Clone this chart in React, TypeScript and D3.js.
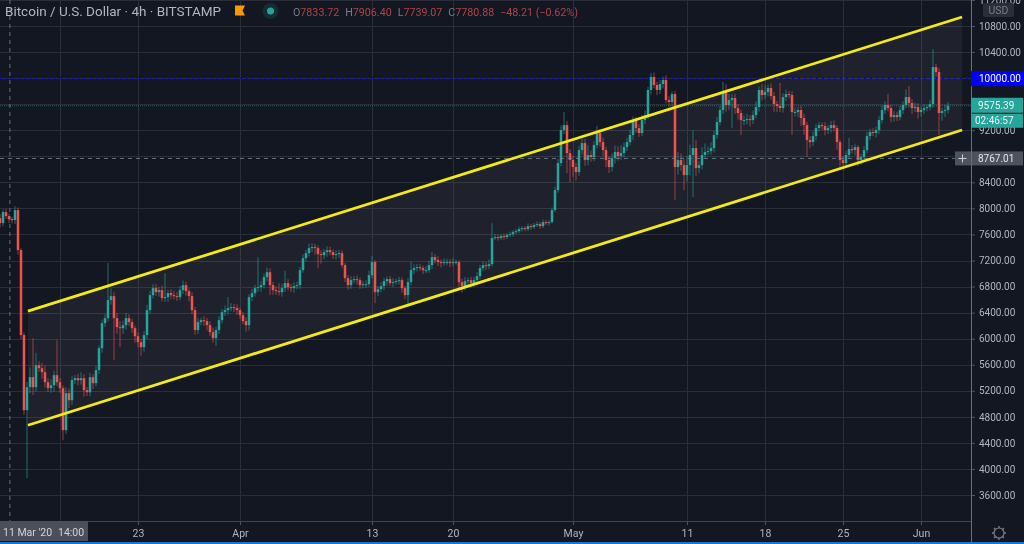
import React, { useEffect, useRef } from 'react';
import * as d3 from 'd3';

const firstOpen = 7850;

// 4h candles thinned out, closing prices
const closes = [
  7774, 7943, 7882, 7835, 7820, 7974, 7360, 6054, 4902, 5255,
  5409, 5255, 5593, 5547, 5486, 5332, 5240, 5286, 5440, 5332,
  5240, 4595, 5163, 5055, 5363, 5393, 5363, 5393, 5209, 5178,
  5409, 5317, 5517, 5854, 6238, 6315, 6592, 6653, 6315, 6177,
  6161, 6207, 6315, 6254, 6161, 6038, 5946, 5869, 6054, 6438,
  6668, 6776, 6714, 6745, 6622, 6638, 6699, 6668, 6653, 6638,
  6745, 6822, 6730, 6653, 6438, 6131, 6254, 6284, 6269, 6207,
  6100, 6008, 6131, 6284, 6407, 6438, 6469, 6484, 6469, 6438,
  6361, 6269, 6207, 6638, 6699, 6776, 6791, 6822, 6945, 7021,
  6822, 6745, 6730, 6714, 6776, 6853, 6791, 6776, 6806, 6822,
  7052, 7236, 7313, 7390, 7406, 7390, 7298, 7283, 7329, 7359,
  7329, 7283, 7298, 7313, 7129, 6929, 6822, 6899, 6914, 6899,
  6822, 6837, 6837, 6975, 7175, 6714, 6760, 6806, 6883, 6914,
  6853, 6868, 6883, 6899, 6776, 6668, 6868, 7052, 7083, 7098,
  7083, 7052, 7052, 7129, 7252, 7206, 7175, 7160, 7175, 7175,
  7160, 7175, 7175, 6868, 6806, 6883, 6899, 6853, 6899, 6960,
  7083, 7129, 7114, 7144, 7544, 7559, 7544, 7574, 7559, 7590,
  7605, 7636, 7651, 7682, 7697, 7682, 7728, 7713, 7744, 7759,
  7728, 7789, 7774, 7789, 7974, 8281, 8696, 9202, 9279, 8849,
  8742, 8634, 8557, 8895, 9003, 8742, 8819, 8788, 8972, 9157,
  9018, 8895, 8742, 8634, 8772, 8865, 8803, 8849, 8941, 9018,
  9126, 9341, 9233, 9157, 9356, 9433, 9817, 10017, 9894, 9817,
  9909, 9971, 9663, 9632, 9755, 8634, 8742, 8665, 8511, 8665,
  8819, 8926, 8619, 8665, 8819, 8865, 8880, 8926, 9126, 9325,
  9510, 9786, 9587, 9663, 9694, 9540, 9464, 9356, 9356, 9371,
  9356, 9433, 9556, 9817, 9740, 9786, 9848, 9725, 9602, 9571,
  9540, 9709, 9755, 9740, 9479, 9479, 9510, 9387, 9279, 9049,
  9018, 9110, 9233, 9279, 9264, 9202, 9233, 9279, 9233, 9018,
  8742, 8696, 8819, 8911, 8895, 8941, 8742, 8788, 8895, 9110,
  9172, 9157, 9202, 9356, 9510, 9587, 9540, 9402, 9433, 9402,
  9510, 9587, 9709, 9617, 9540, 9556, 9479, 9510, 9540, 9556,
  9602, 10170, 10093, 9464, 9494, 9510, 9575,
];

// wick length above the body, dollars
const upperWicks = [
  60, 40, 50, 40, 30, 60, 40, 30, 40, 80,
  150, 600, 190, 60, 80, 100, 60, 90, 70, 537,
  60, 40, 90, 70, 60, 50, 70, 90, 60, 50,
  70, 50, 60, 40, 50, 60, 570, 120, 60, 80,
  90, 70, 80, 60, 50, 40, 60, 50, 60, 80,
  70, 60, 60, 50, 70, 368, 50, 60, 70, 60,
  60, 70, 50, 40, 60, 50, 60, 40, 60, 50,
  60, 70, 50, 60, 50, 70, 170, 60, 50, 60,
  40, 50, 60, 40, 60, 50, 460, 60, 50, 70,
  60, 50, 60, 120, 70, 190, 60, 50, 60, 50,
  50, 60, 50, 70, 60, 50, 40, 60, 50, 60,
  50, 40, 60, 50, 40, 30, 50, 60, 50, 60,
  40, 50, 60, 70, 90, 30, 50, 60, 50, 40,
  50, 60, 40, 50, 40, 30, 60, 130, 60, 50,
  50, 40, 60, 70, 80, 50, 60, 40, 60, 50,
  50, 60, 40, 30, 50, 60, 40, 50, 50, 60,
  50, 60, 50, 70, 230, 50, 40, 30, 40, 30,
  40, 30, 30, 40, 30, 30, 40, 30, 30, 40,
  30, 40, 30, 30, 40, 50, 60, 70, 200, 60,
  60, 70, 60, 60, 70, 60, 150, 70, 60, 110,
  60, 70, 50, 60, 70, 100, 90, 120, 70, 60,
  80, 70, 60, 60, 80, 70, 50, 60, 70, 50,
  60, 50, 70, 60, 40, 50, 120, 100, 90, 140,
  160, 276, 120, 60, 120, 130, 70, 90, 60, 80,
  60, 155, 120, 100, 60, 70, 60, 50, 70, 80,
  60, 70, 90, 60, 90, 110, 50, 70, 60, 50,
  354, 60, 70, 50, 60, 70, 50, 60, 60, 50,
  60, 70, 60, 50, 40, 60, 50, 60, 70, 40,
  40, 60, 60, 170, 60, 50, 30, 50, 60, 70,
  50, 60, 50, 60, 70, 60, 170, 50, 60, 50,
  60, 60, 120, 170, 60, 70, 60, 50, 60, 40,
  60, 277, 50, 60, 50, 80, 60,
];

// wick length below the body, dollars
const lowerWicks = [
  70, 50, 40, 60, 50, 60, 70, 60, 70, 1045,
  90, 120, 70, 60, 100, 80, 60, 70, 100, 60,
  70, 154, 60, 120, 70, 60, 80, 70, 100, 60,
  60, 90, 50, 60, 70, 60, 50, 70, 645, 100,
  290, 90, 70, 60, 70, 100, 80, 130, 70, 60,
  60, 50, 60, 70, 50, 60, 70, 60, 50, 60,
  50, 60, 70, 80, 60, 70, 60, 50, 70, 80,
  60, 70, 120, 60, 50, 60, 70, 50, 60, 70,
  60, 50, 100, 80, 60, 50, 60, 70, 50, 60,
  150, 70, 60, 50, 70, 60, 50, 60, 70, 50,
  60, 40, 50, 50, 60, 100, 215, 130, 60, 70,
  50, 60, 70, 60, 40, 60, 70, 60, 50, 70,
  60, 50, 60, 40, 50, 170, 60, 50, 60, 70,
  50, 60, 40, 50, 70, 60, 184, 50, 60, 50,
  40, 60, 50, 40, 60, 50, 60, 70, 40, 50,
  60, 50, 40, 90, 100, 60, 70, 50, 60, 40,
  50, 40, 60, 50, 40, 30, 40, 30, 40, 30,
  30, 40, 30, 30, 40, 30, 30, 40, 30, 30,
  40, 30, 30, 40, 20, 30, 40, 50, 60, 307,
  340, 150, 130, 60, 70, 90, 80, 70, 60, 50,
  70, 90, 110, 90, 70, 80, 70, 60, 70, 60,
  50, 80, 70, 60, 50, 60, 60, 70, 50, 80,
  60, 70, 50, 70, 60, 507, 120, 90, 230, 100,
  160, 646, 120, 80, 70, 60, 50, 60, 70, 60,
  50, 60, 100, 80, 430, 90, 100, 230, 80, 70,
  100, 60, 50, 70, 80, 60, 70, 50, 120, 90,
  60, 70, 60, 50, 350, 70, 80, 120, 150, 260,
  90, 60, 70, 50, 60, 80, 60, 70, 50, 120,
  150, 80, 70, 60, 50, 80, 90, 70, 60, 50,
  60, 50, 70, 60, 50, 60, 50, 80, 70, 60,
  50, 60, 50, 70, 90, 60, 100, 70, 60, 50,
  50, 60, 70, 338, 120, 90, 50,
];

const gridPrices = [3600, 4000, 4400, 4800, 5200, 5600, 6000, 6400, 6800, 7200, 7600, 8000, 8400, 8800, 9200, 9600, 10000, 10400, 10800, 11200];
// 8800, 9600 and 10000 sit under the price tags
const labelPrices = [3600, 4000, 4400, 4800, 5200, 5600, 6000, 6400, 6800, 7200, 7600, 8000, 8400, 9200, 10400, 10800, 11200];
const timeTickIndex = [20, 46, 80, 124, 151, 191, 229, 255, 281, 307];
const timeTickLabels = ['', '23', 'Apr', '13', '20', 'May', '11', '18', '25', 'Jun'];

// channel end points: candle index and price
const channelIndex = [9.3, 320.7];
const channelUpper = [6422, 10938];
const channelLower = [4671, 9203];

const alertPrice = 10000;
const lastPrice = 9575.39;
const crossPrice = 8767.01;
const crossIndex = 3.3;

const ohlcLabels = ['O', 'H', 'L', 'C'];
const ohlcValues = ['7833.72', '7906.40', '7739.07', '7780.88'];

const FONT = 'Roboto, sans-serif';
const UP = '#26a69a';
const DOWN = '#ef5350';

export default function App() {
  const ref = useRef<SVGSVGElement>(null);

  useEffect(() => {
    if (!ref.current) return;
    document.body.style.margin = '0';
    const width = 1024;
    const height = 544;
    const paneRight = 971;
    const paneBottom = 521;

    const svg = d3.select(ref.current);
    svg.selectAll('*').remove();

    const x = d3.scaleLinear().domain([0, 316]).range([0, 948]);
    const y = d3.scaleLinear().domain([3600, 10800]).range([495, 26]);

    svg.append('rect').attr('width', width).attr('height', height).attr('fill', '#131722');

    svg.append('defs').append('clipPath').attr('id', 'pane')
      .append('rect').attr('width', paneRight).attr('height', paneBottom);

    const pane = svg.append('g').attr('clip-path', 'url(#pane)');

    // Grid
    pane.append('g').selectAll('line').data(gridPrices).enter().append('line')
      .attr('x1', 0).attr('x2', paneRight)
      .attr('y1', d => Math.round(y(d)) + 0.5).attr('y2', d => Math.round(y(d)) + 0.5)
      .attr('stroke', '#2a2e39');
    pane.append('g').selectAll('line').data(timeTickIndex).enter().append('line')
      .attr('x1', d => x(d) + 0.5).attr('x2', d => x(d) + 0.5)
      .attr('y1', 0).attr('y2', paneBottom)
      .attr('stroke', '#2a2e39');

    // Channel fill
    const upperPts = channelIndex.map((d, i) => [x(d), y(channelUpper[i])] as [number, number]);
    const lowerPts = channelIndex.map((d, i) => [x(d), y(channelLower[i])] as [number, number]);
    pane.append('path')
      .attr('d', d3.line()([upperPts[0], upperPts[1], lowerPts[1], lowerPts[0]]) + 'Z')
      .attr('fill', 'rgba(255,255,255,0.05)');

    // Horizontal price lines
    pane.append('line')
      .attr('x1', 0).attr('x2', paneRight)
      .attr('y1', y(lastPrice)).attr('y2', y(lastPrice))
      .attr('stroke', UP).attr('stroke-opacity', 0.55).attr('stroke-dasharray', '1 1');
    pane.append('line')
      .attr('x1', 0).attr('x2', paneRight)
      .attr('y1', y(alertPrice)).attr('y2', y(alertPrice))
      .attr('stroke', '#0000ff').attr('stroke-width', 2).attr('stroke-dasharray', '2 4');

    // Candles
    const candles = closes.map((close, i) => {
      const open = i === 0 ? firstOpen : closes[i - 1];
      return {
        i, open, close,
        high: Math.max(open, close) + upperWicks[i],
        low: Math.min(open, close) - lowerWicks[i],
      };
    });
    const color = (d: { open: number; close: number }) => (d.close >= d.open ? UP : DOWN);

    pane.append('g').selectAll('line').data(candles).enter().append('line')
      .attr('x1', d => x(d.i)).attr('x2', d => x(d.i))
      .attr('y1', d => y(d.high)).attr('y2', d => y(d.low))
      .attr('stroke', color).attr('stroke-opacity', 0.6);
    pane.append('g').selectAll('rect').data(candles).enter().append('rect')
      .attr('x', d => x(d.i) - 1.25)
      .attr('width', 2.5)
      .attr('y', d => y(Math.max(d.open, d.close)))
      .attr('height', d => Math.max(1, Math.abs(y(d.open) - y(d.close))))
      .attr('fill', color);

    // Crosshair
    pane.append('line')
      .attr('x1', x(crossIndex)).attr('x2', x(crossIndex)).attr('y1', 0).attr('y2', paneBottom)
      .attr('stroke', '#758696').attr('stroke-opacity', 0.8).attr('stroke-dasharray', '4 4');
    pane.append('line')
      .attr('x1', 0).attr('x2', paneRight).attr('y1', y(crossPrice)).attr('y2', y(crossPrice))
      .attr('stroke', '#758696').attr('stroke-opacity', 0.8).attr('stroke-dasharray', '4 4');

    // Channel lines
    [upperPts, lowerPts].forEach(pts => {
      pane.append('path')
        .attr('d', d3.line()(pts))
        .attr('stroke', '#f5eb14').attr('stroke-width', 2.8).attr('fill', 'none');
    });

    // Price axis
    const yAxis = svg.append('g')
      .attr('transform', `translate(${paneRight},0)`)
      .call(d3.axisRight(y).tickValues(labelPrices).tickFormat(d3.format('.2f') as any).tickSize(4).tickPadding(4));
    yAxis.select('.domain').remove();
    yAxis.selectAll('line').attr('stroke', '#4c525e');
    yAxis.selectAll('text').attr('fill', '#b2b5be').style('font', `10px ${FONT}`);

    // Time axis
    const xAxis = svg.append('g')
      .attr('transform', `translate(0,${paneBottom})`)
      .call(d3.axisBottom(x).tickValues(timeTickIndex)
        .tickFormat((_, i) => timeTickLabels[i]).tickSize(4).tickPadding(5));
    xAxis.select('.domain').remove();
    xAxis.selectAll('line').attr('stroke', '#4c525e');
    xAxis.selectAll('text').attr('fill', '#b2b5be').style('font', `10.5px ${FONT}`);

    // Axis borders
    svg.append('line').attr('x1', 0).attr('x2', paneRight).attr('y1', paneBottom + 0.5).attr('y2', paneBottom + 0.5).attr('stroke', '#3f434e');
    svg.append('line').attr('x1', paneRight + 0.5).attr('x2', paneRight + 0.5).attr('y1', 0).attr('y2', height).attr('stroke', '#6a6e78');

    // Crosshair time label
    svg.append('rect').attr('x', 0).attr('y', paneBottom).attr('width', 88).attr('height', 20).attr('fill', '#4c4f5a');
    svg.append('text').attr('x', 3).attr('y', paneBottom + 15).attr('fill', '#d1d4dc')
      .style('font', `10.5px ${FONT}`).text("11 Mar '20");
    svg.append('text').attr('x', 58).attr('y', paneBottom + 15).attr('fill', '#d1d4dc')
      .style('font', `10.5px ${FONT}`).text('14:00');

    // Price labels
    const tag = (top: number, h: number, fill: string, label: string, textFill: string, textX = 978, left = paneRight, right = 1023) => {
      svg.append('rect').attr('x', left).attr('y', top).attr('width', right - left).attr('height', h).attr('fill', fill);
      svg.append('text').attr('x', textX).attr('y', top + h / 2 + 3.6)
        .attr('fill', textFill).style('font', `10px ${FONT}`).text(label);
    };
    tag(y(alertPrice) - 7, 15, '#0000ff', alertPrice.toFixed(2), '#ffffff', 979, paneRight, 1024);
    tag(y(lastPrice) - 8, 15, UP, lastPrice.toFixed(2), '#e8f5f3');
    tag(y(lastPrice) + 8, 14, UP, '02:46:57', '#e8f5f3', 975);
    tag(y(crossPrice) - 7, 14, '#4c525e', crossPrice.toFixed(2), '#e0e3eb', 978, 972);

    // Crosshair plus button
    svg.append('rect').attr('x', 955).attr('y', y(crossPrice) - 7).attr('width', 16).attr('height', 14).attr('fill', '#4c525e');
    svg.append('path')
      .attr('d', `M958.5,${y(crossPrice)}h8M962.5,${y(crossPrice) - 4}v8`)
      .attr('stroke', '#d1d4dc').attr('fill', 'none');

    // USD box
    svg.append('rect').attr('x', 983).attr('y', 3).attr('width', 31).attr('height', 14).attr('rx', 2).attr('fill', '#2a2e39');
    svg.append('text').attr('x', 998.5).attr('y', 13.5).attr('text-anchor', 'middle').attr('fill', '#787b86')
      .style('font', `10.5px ${FONT}`).text('USD');

    // Header legend
    svg.append('text').attr('x', 5).attr('y', 16).attr('fill', '#b2b5be')
      .style('font', `13.5px ${FONT}`).text('Bitcoin / U.S. Dollar · 4h · BITSTAMP');
    svg.append('path').attr('d', 'M235,5.5H245L242.5,10.5L245,15.5H235Z').attr('fill', '#ff9800');
    svg.append('circle').attr('cx', 270.5).attr('cy', 11).attr('r', 8).attr('fill', UP).attr('fill-opacity', 0.15);
    svg.append('circle').attr('cx', 270.5).attr('cy', 11).attr('r', 3.5).attr('fill', UP);

    const legend = svg.append('text').attr('x', 293).attr('y', 16).style('font', `10.7px ${FONT}`);
    ohlcLabels.forEach((label, i) => {
      legend.append('tspan').attr('fill', '#787b86').attr('dx', i === 0 ? 0 : 6).text(label);
      legend.append('tspan').attr('fill', '#b04444').text(ohlcValues[i]);
    });
    legend.append('tspan').attr('fill', '#b04444').attr('dx', 6).text('−48.21 (−0.62%)');

    // Settings gear
    const gear = svg.append('g').attr('transform', 'translate(999,533)');
    gear.append('circle').attr('r', 5).attr('fill', 'none').attr('stroke', '#787b86').attr('stroke-width', 1.2);
    gear.append('g').selectAll('line').data(d3.range(8)).enter().append('line')
      .attr('y1', -5).attr('y2', -7)
      .attr('transform', d => `rotate(${d * 45})`)
      .attr('stroke', '#787b86').attr('stroke-width', 1.4);

    // Bottom strip
    svg.append('rect').attr('x', 0).attr('y', 542).attr('width', width).attr('height', 2).attr('fill', '#1976d2');
  }, []);

  // the reference is a soft, rescaled screenshot
  return <svg ref={ref} width={1024} height={544} style={{ display: 'block', position: 'absolute', left: 0, top: 0, filter: 'blur(0.45px)' }} />;
}
